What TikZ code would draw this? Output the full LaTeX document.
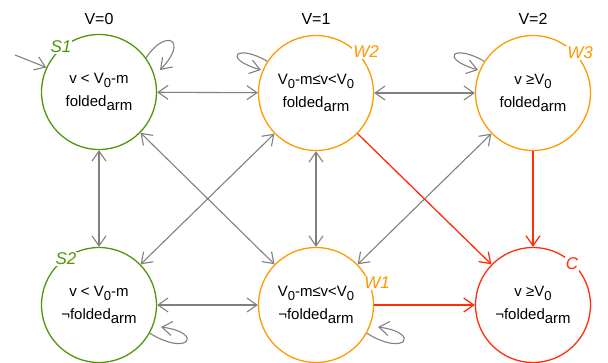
\documentclass[tikz,border=0pt]{standalone}
\usepackage{fontspec}
\setmainfont{Liberation Sans}
\usepackage{tikz}
\usetikzlibrary{arrows.meta}

\definecolor{stgreen}{RGB}{80,150,10}
\definecolor{storange}{RGB}{255,153,0}
\definecolor{stred}{RGB}{255,45,10}
\definecolor{stgray}{RGB}{128,128,128}

\newcommand{\lowr}[1]{\raisebox{-4.5pt}{#1}}
\newcommand{\lownum}[1]{\raisebox{-4pt}{\fontsize{13}{13}\selectfont #1}}

\tikzset{
    state/.style={circle, line width=1.3pt, minimum size=115pt, inner sep=0pt,
        align=center, font=\fontsize{15}{23}\selectfont},
    tag/.style={fill=white, inner sep=1pt, font=\fontsize{17}{17}\selectfont\itshape},
    vlabel/.style={font=\fontsize{16}{16}\selectfont},
    link/.style={stgray, line width=1.1pt, -{Straight Barb[length=10pt,width=14pt]}},
    both/.style={link, {Straight Barb[length=10pt,width=14pt]}-{Straight Barb[length=10pt,width=14pt]}},
    crit/.style={link, stred, line width=1.3pt}
}

\begin{document}
\begin{tikzpicture}[x=1pt,y=1pt]
            \useasboundingbox (0,0) rectangle (608,362);

            % voltage levels
            \foreach \x/\v in {99/0,316/1,533/2}{
                \node[vlabel] (v\v) at (\x,343) {V=\v};
            }

            % states
            \node[state, draw=stgreen] (S1) at (99,270) {v < V\lownum{0}-m\\folded\lowr{arm}};
            \node[state, draw=storange] (W2) at (316,269) {V\lownum{0}-m≤v<V\lownum{0}\\folded\lowr{arm}};
            \node[state, draw=storange] (W3) at (533,269) {v ≥V\lownum{0}\\folded\lowr{arm}};
            \node[state, draw=stgreen] (S2) at (99,57) {v < V\lownum{0}-m\\¬folded\lowr{arm}};
            \node[state, draw=storange] (W1) at (316,57) {V\lownum{0}-m≤v<V\lownum{0}\\¬folded\lowr{arm}};
            \node[state, draw=stred] (C) at (533,57) {v ≥V\lownum{0}\\¬folded\lowr{arm}};

            % state names
            \node[tag, text=stgreen] (tS1) at (61,315) {S1};
            \node[tag, text=storange] (tW2) at (366,310) {W2};
            \node[tag, text=storange] (tW3) at (580,309) {W3};
            \node[tag, text=stgreen] (tS2) at (66,103) {S2};
            \node[tag, text=storange] (tW1) at (377,79) {W1};
            \node[tag, text=stred] (tC) at (572,98) {C};

            % initial state
            \coordinate (init) at (15,307);
            \draw[link] (init) -- (S1.155);

            % transitions
            \foreach \a/\b in {S1/W2,W2/W3,S1/S2,S2/W2,S1/W1,W2/W1,W3/W1,S2/W1}{
                \draw[both] (\a) -- (\b);
            }
            \foreach \a/\b in {W2/C,W3/C,W1/C}{
                \draw[crit] (\a) -- (\b);
            }

            % self loops
            \draw[link] (S1.36) .. controls +(20,30) and +(29,30) .. ([shift={(61,22)}]S1.center);
            \foreach \s in {W2,W3}{
                \draw[link] (\s.147) .. controls +(-30,18) and +(-40,12) .. ([shift={(-55,23)}]\s.center);
            }
            \foreach \s in {S2,W1}{
                \draw[link] (\s.-29) .. controls +(38,-24) and +(44,-6) .. ([shift={(62,-22)}]\s.center);
            }
        \end{tikzpicture}
\end{document}
